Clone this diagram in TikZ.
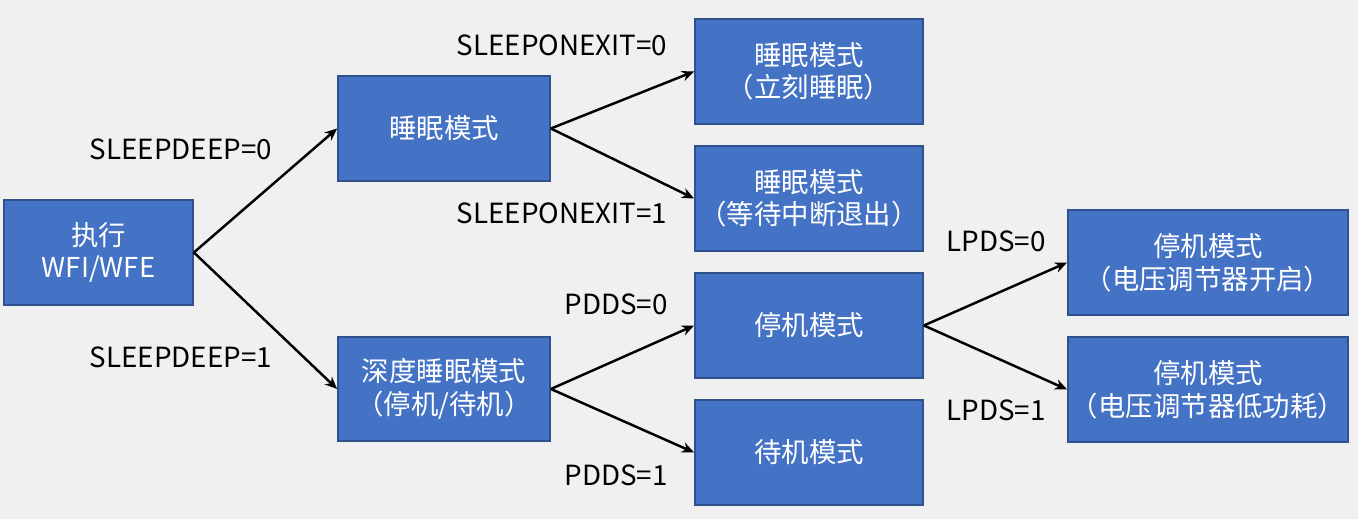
\documentclass[tikz,border=0pt]{standalone}
\usepackage{fontspec}
\setmainfont{Noto Sans CJK SC}
\usetikzlibrary{arrows.meta}
\definecolor{boxfill}{HTML}{4472C4}
\definecolor{boxline}{HTML}{2F528F}
\definecolor{bg}{HTML}{F0F0F0}
\begin{document}
\begin{tikzpicture}[x=0.02cm,y=-0.02cm,
  modebox/.style={draw=boxline,line width=1pt,fill=boxfill,text=white,align=center,
    inner sep=0pt,font=\fontsize{15.6}{18.5}\selectfont},
  lbl/.style={font=\fontsize{15.8}{18}\selectfont,text=black,inner sep=0pt},
  conn/.style={line width=1.4pt,-{Stealth[length=7pt,width=6pt]}}]
\fill[bg] (0,0) rectangle (1358,519);
\useasboundingbox (0,0) rectangle (1358,519);
\node[modebox,minimum width=189*0.02cm,minimum height=105*0.02cm] (A) at (98.5,252.5) {执行\\WFI/WFE};
\node[modebox,minimum width=212*0.02cm,minimum height=105*0.02cm] (B) at (444,128.5) {睡眠模式};
\node[modebox,minimum width=212*0.02cm,minimum height=104*0.02cm] (C) at (444,389) {深度睡眠模式\\（停机/待机）};
\node[modebox,minimum width=228*0.02cm,minimum height=105*0.02cm] (D1) at (809,71.5) {睡眠模式\\（立刻睡眠）};
\node[modebox,minimum width=228*0.02cm,minimum height=105*0.02cm] (D2) at (809,198.5) {睡眠模式\\（等待中断退出）};
\node[modebox,minimum width=228*0.02cm,minimum height=105*0.02cm] (E1) at (809,325.5) {停机模式};
\node[modebox,minimum width=228*0.02cm,minimum height=105*0.02cm] (E2) at (809,452.5) {待机模式};
\node[modebox,minimum width=280*0.02cm,minimum height=105*0.02cm] (F1) at (1208,262.5) {停机模式\\（电压调节器开启）};
\node[modebox,minimum width=280*0.02cm,minimum height=105*0.02cm] (F2) at (1208,389.5) {停机模式\\（电压调节器低功耗）};
\draw[conn] (A.east) -- (B.west);
\draw[conn] (A.east) -- (C.west);
\draw[conn] (B.east) -- (D1.west);
\draw[conn] (B.east) -- (D2.west);
\draw[conn] (C.east) -- (E1.west);
\draw[conn] (C.east) -- (E2.west);
\draw[conn] (E1.east) -- (F1.west);
\draw[conn] (E1.east) -- (F2.west);
\node[lbl] (l1) at (181,149) {SLEEPDEEP=0};
\node[lbl] (l2) at (181,357) {SLEEPDEEP=1};
\node[lbl] (l3) at (562,45) {SLEEPONEXIT=0};
\node[lbl] (l4) at (562,213) {SLEEPONEXIT=1};
\node[lbl] (l5) at (616,304) {PDDS=0};
\node[lbl] (l6) at (616,475) {PDDS=1};
\node[lbl] (l7) at (996,241) {LPDS=0};
\node[lbl] (l8) at (996,410) {LPDS=1};
\end{tikzpicture}
\end{document}
